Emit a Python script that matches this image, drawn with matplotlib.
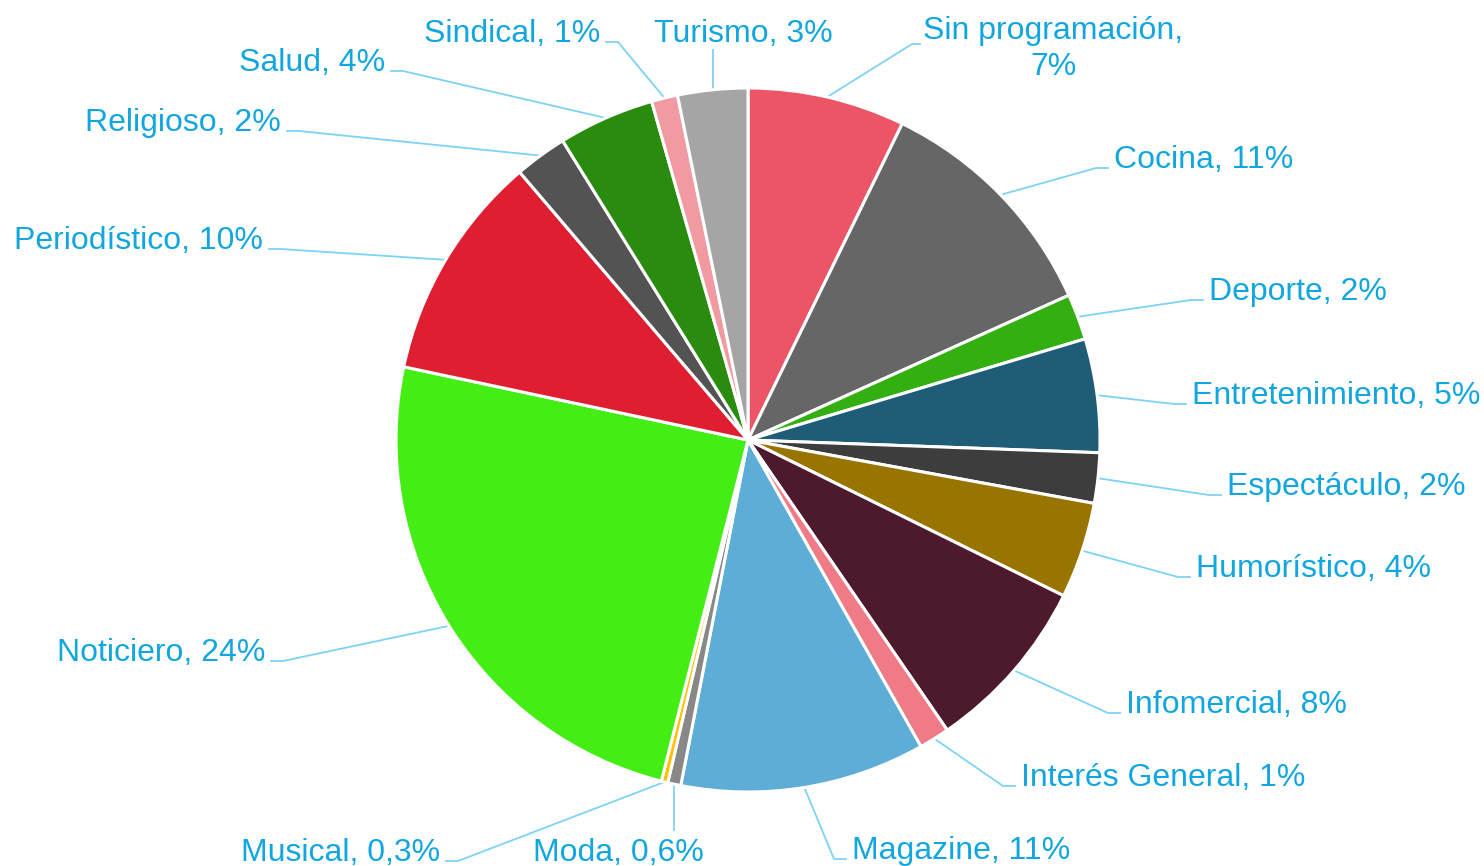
import matplotlib
matplotlib.use('Agg')
import matplotlib.pyplot as plt
import numpy as np

plt.rcParams['font.family'] = ['Liberation Sans', 'DejaVu Sans']

# data, clockwise from 12 o'clock
CATEGORIES = ['Sin programación', 'Cocina', 'Deporte', 'Entretenimiento', 'Espectáculo',
              'Humorístico', 'Infomercial', 'Interés General', 'Magazine', 'Moda', 'Musical',
              'Noticiero', 'Periodístico', 'Religioso', 'Salud', 'Sindical', 'Turismo']
VALUES = [7.2, 11.0, 2.1, 5.2, 2.3, 4.4, 8.1, 1.4, 11.2, 0.6, 0.3,
          24.3, 10.4, 2.4, 4.4, 1.2, 3.2]
PCT_LABELS = ['7%', '11%', '2%', '5%', '2%', '4%', '8%', '1%', '11%', '0,6%', '0,3%',
              '24%', '10%', '2%', '4%', '1%', '3%']
COLORS = ['#EB5565', '#666666', '#33AF12', '#1F5C78', '#3D3D3D', '#977500', '#4D1A2D',
          '#F07A86', '#5DADD6', '#888888', '#FFC000', '#44EE15', '#E01E32', '#535353',
          '#2A8C0E', '#F29AA2', '#A5A5A5']

# layout (pixels, y measured from top): label anchor x, baseline y, side
LABEL_POS = [(1053, 49, 'multi'), (1114, 168, 'left'), (1209, 300, 'left'),
             (1192, 404, 'left'), (1227, 495, 'left'), (1196, 577, 'left'),
             (1126, 713, 'left'), (1021, 786, 'left'), (852, 859, 'left'),
             (618, 861, 'center'), (440, 861, 'right'), (265, 661, 'right'),
             (263, 249, 'right'), (281, 131, 'right'), (385, 71, 'right'),
             (600, 42, 'right'), (743, 42, 'center')]

W, H = 1484, 866
CX, CY, R = 748, H - 440, 352
TEXT_COLOR = '#12A6E0'
LINE_COLOR = '#7DD3F5'
FS = 23


def main():
    fig = plt.figure(figsize=(W / 100, H / 100), dpi=100)
    ax = fig.add_axes([0, 0, 1, 1])
    ax.pie(VALUES, colors=COLORS, startangle=90, counterclock=False,
           center=(CX, CY), radius=R,
           wedgeprops={'edgecolor': 'white', 'linewidth': 2.2})
    ax.set_xlim(0, W)
    ax.set_ylim(0, H)
    ax.set_aspect('equal')
    ax.axis('off')

    total = sum(VALUES)
    cum = np.cumsum([0] + VALUES[:-1])
    for name, pct, val, c0, (lx, ly, side) in zip(CATEGORIES, PCT_LABELS, VALUES, cum, LABEL_POS):
        theta = np.deg2rad(360 * (c0 + val / 2) / total)
        sx, sy = CX + R * np.sin(theta), CY + R * np.cos(theta)
        by = H - ly
        if side == 'left':
            xs = [sx, lx - 18, lx - 6]
            ys = [sy, by, by]
            ax.text(lx, by, f'{name}, {pct}', ha='left', va='baseline',
                    fontsize=FS, color=TEXT_COLOR)
        elif side == 'right':
            xs = [sx, lx + 18, lx + 6]
            ys = [sy, by, by]
            ax.text(lx, by, f'{name}, {pct}', ha='right', va='baseline',
                    fontsize=FS, color=TEXT_COLOR)
        elif side == 'center':
            end = by - 8 if by > CY else by + 31
            xs = [sx, sx]
            ys = [sy, end]
            ax.text(lx, by, f'{name}, {pct}', ha='center', va='baseline',
                    fontsize=FS, color=TEXT_COLOR)
        else:
            xs = [sx, 912, 920]
            ys = [sy, H - 44, H - 44]
            ax.text(lx, by, f'{name},\n{pct}', ha='center', va='center',
                    fontsize=FS, color=TEXT_COLOR, linespacing=1.25)
        ax.plot(xs, ys, color=LINE_COLOR, linewidth=1.3, zorder=0)

    fig.savefig('out.png', dpi=100)
    plt.close(fig)


if __name__ == '__main__':
    main()
